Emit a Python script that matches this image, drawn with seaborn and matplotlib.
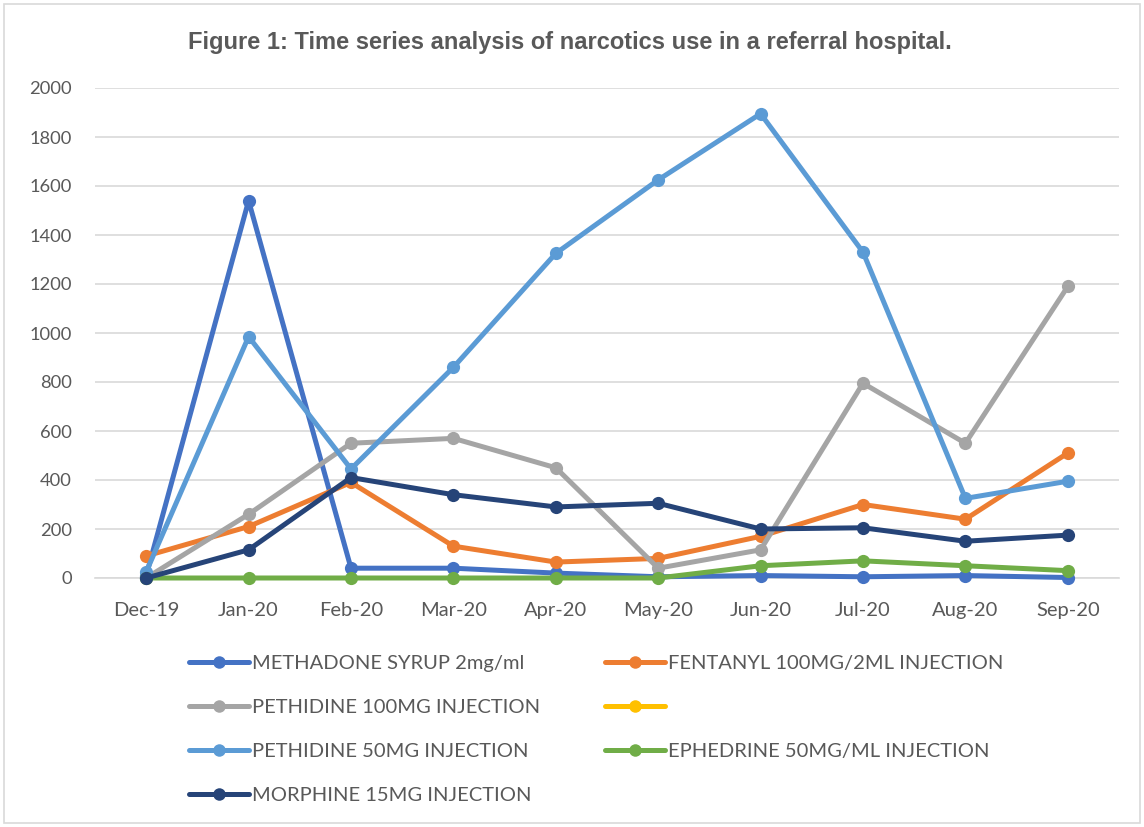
import matplotlib
matplotlib.use("Agg")
import matplotlib.pyplot as plt
import seaborn as sns
import numpy as np
import pandas as pd
from matplotlib.lines import Line2D
from matplotlib.patches import Rectangle

months = ["Dec-19", "Jan-20", "Feb-20", "Mar-20", "Apr-20", "May-20",
          "Jun-20", "Jul-20", "Aug-20", "Sep-20"]

methadone = [10, 1540, 40, 40, 20, 5, 10, 5, 10, 2]
fentanyl = [90, 210, 390, 130, 65, 80, 170, 300, 240, 510]
pethidine100 = [0, 260, 550, 570, 450, 40, 115, 795, 550, 1190]
unnamed = [np.nan] * 10
pethidine50 = [25, 985, 445, 860, 1325, 1625, 1895, 1330, 325, 395]
ephedrine = [0, 0, 0, 0, 0, 0, 50, 70, 50, 30]
morphine = [0, 115, 410, 340, 290, 305, 200, 205, 150, 175]

names = ["METHADONE SYRUP 2mg/ml", "FENTANYL 100MG/2ML INJECTION",
         "PETHIDINE 100MG INJECTION", "", "PETHIDINE 50MG INJECTION",
         "EPHEDRINE 50MG/ML INJECTION", "MORPHINE 15MG INJECTION"]
series = [methadone, fentanyl, pethidine100, unnamed, pethidine50, ephedrine, morphine]
colors = ["#4472C4", "#ED7D31", "#A5A5A5", "#FFC000", "#5B9BD5", "#70AD47", "#264478"]

sns.set_theme(style="white")
plt.rcParams['font.family'] = ['Lato', 'DejaVu Sans']

fig = plt.figure(figsize=(11.44, 8.27), dpi=100)
ax = fig.add_axes([95 / 1144, 1 - 578 / 827, (1119 - 95) / 1144, (578 - 88) / 827])

x_idx = np.arange(len(months))
handles = []
for k, (name, vals, col) in enumerate(zip(names, series, colors)):
    v = np.array(vals, dtype=float)
    if not np.all(np.isnan(v)):
        sns.lineplot(x=x_idx, y=v, color=col, marker='o', markersize=9.5,
                     markeredgewidth=0, linewidth=3.6, ax=ax, sort=False,
                     errorbar=None, clip_on=False, zorder=3 + k * 0.1)
    handles.append(Line2D([], [], color=col, lw=3.6, marker='o', markersize=9,
                          markeredgewidth=0))

ax.set_xlim(-0.5, len(months) - 0.5)
ax.set_ylim(0, 2000)
ax.set_yticks(np.arange(0, 2001, 200))
ax.set_xticks(x_idx)
ax.set_xticklabels(months)
ax.grid(axis='y', color='#D9D9D9', linewidth=1.2)
ax.set_axisbelow(True)
for s in ['top', 'right', 'left']:
    ax.spines[s].set_visible(False)
ax.spines['bottom'].set_color('#D9D9D9')
ax.spines['bottom'].set_linewidth(1.2)
ax.spines['bottom'].set_zorder(1)
ax.tick_params(axis='x', length=0, labelsize=14.5, labelcolor='#595959', pad=17)
ax.tick_params(axis='y', length=0, labelsize=13.2, labelcolor='#595959', pad=16.5)
ax.set_xlabel("")
ax.set_ylabel("")

fig.text(570 / 1144, 1 - 42 / 827,
         "Figure 1: Time series analysis of narcotics use in a referral hospital.",
         ha='center', va='center', fontsize=17, fontweight='bold', color='#595959',
         family=['Liberation Sans', 'DejaVu Sans'])

order = [0, 2, 4, 6, 1, 3, 5]
hl = [handles[i] for i in order]
ll = [names[i] for i in order]
leg = fig.legend(hl, ll, ncol=2, loc='upper left', bbox_to_anchor=(181 / 1144, 1 - 647 / 827),
                 frameon=False, fontsize=14.5, handlelength=3.0, handletextpad=0.15,
                 columnspacing=3.2, labelspacing=1.33, labelcolor='#595959',
                 borderaxespad=0)

fig.patches.append(Rectangle((4 / 1144, 4 / 827), 1 - 8 / 1144, 1 - 8 / 827,
                             transform=fig.transFigure, fill=False,
                             edgecolor='#D9D9D9', linewidth=1.2))

fig.savefig("out.png", dpi=100)
